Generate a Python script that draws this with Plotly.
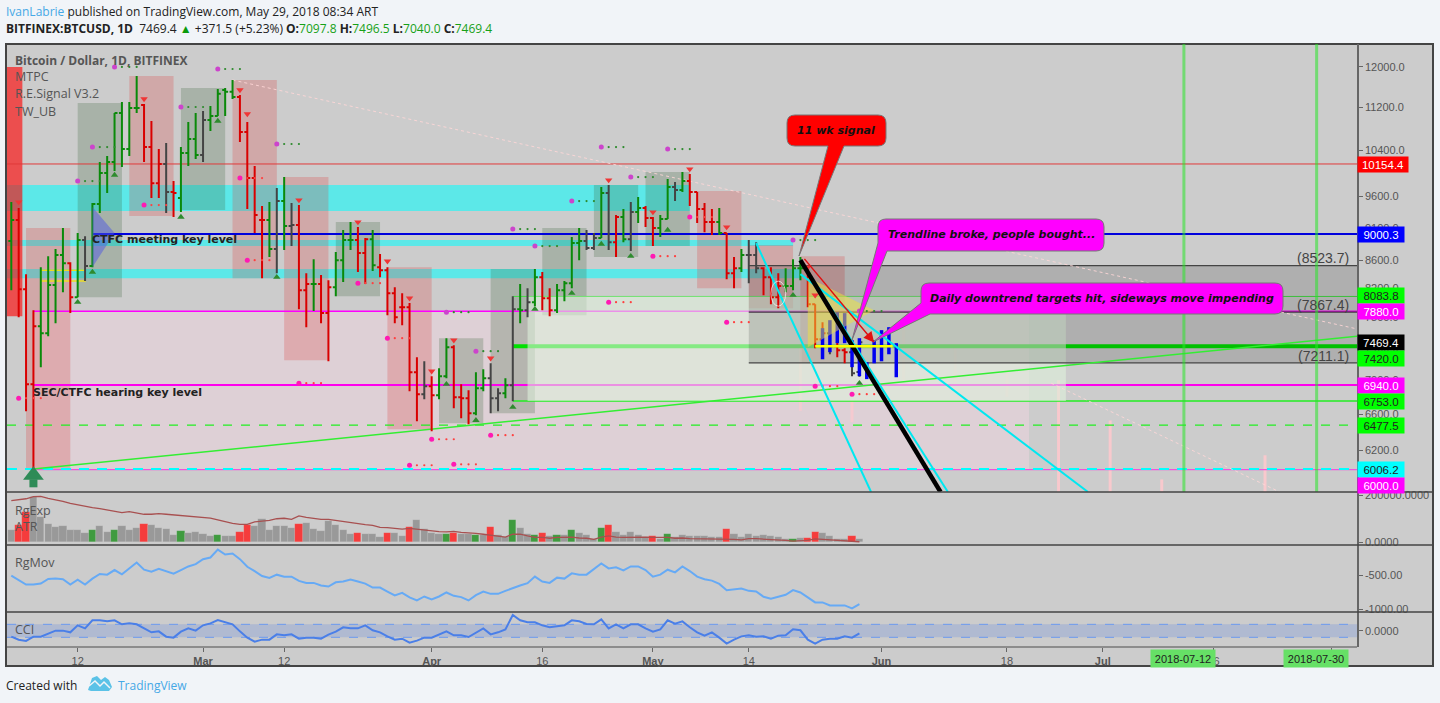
import pandas as pd
import numpy as np
import plotly.graph_objects as go

# ---------- chart data ----------
dates = pd.date_range("2018-02-03", "2018-05-29", freq="D")
bar_codes = ("g r r r g g g g r g k g g g g g g g r r r k r g g g "
             "k g g g g r r r r g k g k r r g r r g g g r r g r r r r r r k "
             "r g g r r r g g k k g k g k g r r g g g g k k g k r g k g r "
             "r g g k g r r r r g r r g k k r r r g g g r r r k r r k k").split()
opens = [8892,9220,8186,6950,7680,7588,8243,8680,8560,8074,8907,8517,9478,9998,10189,11086,10419,11182,11240,10455,9825,10154,9676,9576,10348,10600,
         10312,10953,11029,11534,11497,11396,10729,9911,9220,9220,8770,9526,9125,9141,8172,8257,8257,7855,8214,8605,8907,8907,8710,8922,8502,8458,8130,7936,7936,7095,6832,
         6927,6820,7047,7407,6796,6785,6612,6903,7022,6785,6844,6939,7909,7895,8004,8357,8060,7895,8172,8271,8861,8892,8785,8938,9659,8876,9268,8922,9348,9412,
         9252,9093,9236,9760,9709,9860,9676,9396,9188,9188,9015,8414,8487,8680,8680,8487,8357,8074,8229,8229,8487,8487,7977,7510,7588,7420,7369,7344,7097.8]
highs = [9510,9412,8400,7895,8502,8664,8770,9093,8575,9015,8968,9494,10189,10295,11086,11298,11298,11815,11260,10934,10419,10527,9860,10455,10916,11086,
         11124,11220,11554,11574,11734,11435,10916,10119,9445,9510,9742,9928,9494,9461,8414,8620,8386,8314,8725,9062,9188,9109,8938,9062,8695,8502,8214,8130,7992,7281,7230,
         7047,7145,7523,7433,6950,6879,7095,7132,7205,6903,7022,8088,8257,8200,8473,8430,8200,8257,8300,8953,9093,9062,9015,9760,9793,9300,9396,9510,9592,9445,
         9268,9300,9894,9843,10015,9981,9676,9494,9396,9412,9015,8650,8770,8907,8876,8502,8502,8414,8487,8620,8650,8487,7977,7733,7588,7868,7394,7497,7496.5]
lows = [8172,7800,6635,6006,7157,7548,7720,8144,7855,8074,8300,8502,9332,9659,10032,10100,10295,11086,10189,9576,9576,9332,9268,9348,10119,10242,
        10189,10748,11029,11029,11357,10546,9396,9015,8342,8650,8414,8755,8816,7909,7667,7882,7720,7230,8088,8286,8755,8430,8257,8444,8357,7827,7720,7693,6867,6521,6773,
        6410,6773,7022,6669,6555,6488,6589,6867,6612,6635,6785,6749,7720,7800,7950,7895,7813,7855,8018,8200,8605,8755,8755,8938,8755,8650,8876,8740,9172,9109,
        8816,8953,9236,9526,9676,9445,9172,9030,8984,8984,8328,8200,8430,8271,8414,8102,7977,7922,8144,8172,8314,7936,7394,7281,7318,7281,7205,7047,7040.0]
closes = [9220,8186,6950,7680,7588,8243,8680,8560,8074,8907,8517,9478,9998,10189,11086,10419,11182,11182,10455,9825,10154,9676,9659,10348,10600,10312,
          10953,11029,11458,11497,11396,10729,9911,9300,9220,8770,9526,9125,9141,8172,8257,8257,7855,8214,8605,8907,8907,8710,8922,8531,8458,8130,7800,7936,7095,6832,6927,
          6820,7047,7407,6796,6785,6612,6903,7022,6785,6844,6939,7909,7895,8004,8357,8060,7895,8172,8271,8861,8892,8785,8938,9659,8876,9268,8922,9348,9412,9252,
          9093,9236,9760,9709,9860,9676,9396,9188,9188,9015,8414,8487,8680,8680,8487,8357,8074,8229,8229,8487,8487,7977,7510,7588,7420,7369,7344,7083,7469.4]

blue_dates = pd.date_range("2018-05-24", "2018-06-03", freq="D")
blue_high = [7654,7760,7868,7855,7497,7523,7218,7497,7628,7667,7459]
blue_low  = [7255,7344,7459,7459,7157,7047,7011,7205,7230,7318,7034]

volume_k = [51,72,129,193,105,75,62,68,51,51,40,51,68,43,51,68,51,60,77,72,60,54,30,47,38,43,
            34,26,30,26,26,43,72,68,98,51,68,68,60,77,81,55,47,89,72,51,34,38,34,34,21,38,38,26,64,94,55,
            38,34,34,38,34,34,30,28,64,30,21,94,60,34,30,38,26,30,30,51,38,30,13,60,72,43,30,43,30,21,
            26,13,34,21,30,26,26,26,20,20,55,34,20,34,26,30,26,21,13,13,17,17,43,38,26,11,13,26,13]
volume_red = ["02-04","02-05","02-21","03-06","03-07","03-14","03-22","03-26","03-29","04-04","04-09","04-16","04-25","05-01","05-11","05-22","05-23","05-28"]
volume_green = ["02-14","02-17","02-26","03-03","04-03","04-07","04-12","04-15","04-18","04-20","04-24","05-03","05-20"]
atr_k = [176,180,184,193,194,186,180,173,164,157,150,146,142,136,129,125,129,125,118,118,121,118,115,113,111,106,
         105,102,94,86,79,75,75,86,89,92,99,101,96,111,105,101,96,96,91,86,82,79,74,71,62,61,57,55,58,54,50,
         45,44,43,45,41,40,37,33,30,27,21,33,33,26,20,20,16,20,20,21,17,16,11,21,26,21,20,21,21,21,
         20,20,20,16,17,14,14,14,14,11,14,11,9,14,14,13,11,9,7,4,6,7,13,11,9,6,3,3,1]
rgmov = [-510,-573,-641,-641,-626,-558,-553,-563,-641,-568,-641,-553,-485,-495,-427,-490,-403,-316,-422,-451,-408,-447,-481,-427,-374,-340,
         -267,-243,-126,-199,-184,-267,-379,-442,-515,-544,-495,-524,-524,-587,-616,-616,-655,-670,-607,-597,-568,-597,-626,-684,-684,-743,-801,-762,-830,-874,-816,
         -859,-816,-757,-806,-825,-874,-796,-743,-777,-777,-733,-689,-655,-621,-524,-597,-616,-539,-553,-476,-495,-495,-417,-330,-403,-388,-432,-374,-374,-427,
         -524,-495,-422,-461,-374,-442,-524,-563,-583,-631,-723,-714,-699,-733,-743,-820,-849,-820,-791,-723,-757,-830,-903,-903,-947,-947,-947,-990,-927]
cci = [-90,-136,-156,-90,-90,-38,3,3,-23,85,38,162,162,146,162,100,115,100,38,-23,-8,-90,-105,-13,38,3,
       85,115,167,131,100,-8,-105,-167,-136,-136,-54,-69,-54,-121,-105,-105,-121,-59,-13,54,38,38,85,8,-23,-85,-136,-121,-182,-151,-105,
       -105,-54,-8,-69,-69,-95,-23,38,-54,-23,23,244,162,131,131,85,54,69,85,162,146,105,100,177,38,100,38,100,100,38,
       -13,23,162,110,146,54,-23,-74,-23,-105,-197,-136,-85,-69,-90,-85,-121,-74,-69,23,8,-136,-197,-136,-121,-121,-85,-105,-38]

red_start = ["2018-02-05","2018-02-19","2018-03-05","2018-03-12","2018-03-26","2018-05-07","2018-05-14","2018-05-21"]
red_end   = ["2018-02-11","2018-02-25","2018-03-11","2018-03-18","2018-04-01","2018-05-13","2018-05-20","2018-05-27"]
red_top   = [9093,11815,11734,9928,8502,9692,8831,8664]
red_bot   = [6006,9284,8342,7243,6432,8200,7922,7211]
grn_start = ["2018-02-12","2018-02-26","2018-03-19","2018-04-02","2018-04-09","2018-04-16","2018-04-23","2018-04-30"]
grn_end   = ["2018-02-18","2018-03-04","2018-03-25","2018-04-08","2018-04-15","2018-04-22","2018-04-29","2018-05-06"]
grn_top   = [11279,11574,9188,7523,8473,9093,9793,10015]
grn_bot   = [8074,9380,8088,6499,6612,7827,8650,8816]

dots_green_d = ["02-17","03-03","02-26","02-14","02-12","03-11","04-03","04-07","04-12","04-15","04-20","04-24","04-28","05-03","05-20","05-29"]
dots_green_p = [12000,11958,11201,10455,9860,10510,7868,7357,9078,8816,9526,10455,9928,10419,8907,7882]
dots_red_d = ["02-21","03-06","03-07","02-04","03-22","03-26","03-14","04-01","04-09","04-25","05-01","05-06","05-11","05-23","05-28","03-29","04-04"]
dots_red_p = [9461,9911,8605,6785,8271,7523,6963,6322,6366,8004,8664,9268,7733,6927,6832,6045,6055]
down_d = ["02-04","02-21","03-06","03-07","03-14","03-22","03-26","03-29","04-01","04-04","04-09","04-25","05-01","05-06","05-11","05-22","05-23"]
down_p = [9510,11357,11534,11067,9543,9188,8590,8060,7107,7497,7268,9877,9348,10066,9109,8502,8102]
up_d = ["02-17","03-03","02-26","02-12","02-14","03-11","04-03","04-07","04-12","04-15","04-20","04-24","04-28","05-03","05-20","05-29"]
up_p = [9962,10934,9268,8004,8430,8357,6950,6532,6680,7909,8130,8846,8664,9062,8102,6963]
pink_d = ["05-21","05-28","06-04","06-11","06-18","06-25","07-02","07-09","07-23"]
pink_hi = [7407,6761,7628,7400,7120,6998,6530,5900,6150]
pink_lo = [6635,6510,7000,6950,6800,5773,5773,5773,5773]
pink_alpha = [0.5,0.7,0.25,0.25,0.3,0.85,0.85,0.85,0.85]

y_ticks = [12000,11200,10400,9600,9100,8600,8200,7800,7400,7000,6600,6200]
x_tick_dates = ["2018-02-12","2018-03-01","2018-03-12","2018-04-01","2018-04-16","2018-05-01","2018-05-14","2018-06-01","2018-06-18","2018-07-01","2018-07-16","2018-08-01"]
x_tick_text = ["12","<b>Mar</b>","12","<b>Apr</b>","16","<b>May</b>","14","<b>Jun</b>","18","<b>Jul</b>","16","<b>Aug</b>"]

# ---------- layout geometry ----------
W, H = 1440, 703
M_T, M_B = 7, 13     # fixed margins so edge texts do not push the plot area
px = lambda x: x / W
py = lambda y: 1 - (y - M_T) / (H - M_T - M_B)
X_L, X_R = "2018-02-02 10:00", "2018-08-04 11:20"
P_MIN, P_MAX = 5773, 12484
F = "Open Sans"; A = "Liberation Sans"; D = "DejaVu Sans"
shapes, notes = [], []
def yr(d): return "2018-" + d

def band(x0, x1, y0, y1, fill, yref="y"):
    shapes.append(dict(type="rect", xref="x", yref=yref, x0=x0, x1=x1, y0=y0, y1=y1, fillcolor=fill, line=dict(width=0), layer="below"))
def seg(x0, y0, x1, y1, color, width=1, dash="solid", yref="y", layer="below"):
    shapes.append(dict(type="line", xref="x", yref=yref, x0=x0, x1=x1, y0=y0, y1=y1, line=dict(color=color, width=width, dash=dash), layer=layer))
def prect(x0, y0, x1, y1, fill="rgba(0,0,0,0)", color="#444", width=1.5, layer="below"):
    shapes.append(dict(type="rect", xref="paper", yref="paper", x0=px(x0), x1=px(x1), y0=py(y0), y1=py(y1), fillcolor=fill, line=dict(color=color, width=width), layer=layer))
def text(x, y, s, size=12, color="#555", font=F, anchor="left", **kw):
    if "bgcolor" not in kw:
        x = x - 2 if anchor == "left" else x + 2 if anchor == "right" else x
    notes.append(dict(xref="paper", yref="paper", x=px(x), y=py(y), text=s, showarrow=False, xanchor=anchor, yanchor="middle",
                      font=dict(family=font, size=size, color=color), **kw))

# page and panel background
prect(6, 44, 1433, 666, fill="#cccccc", color="#444", width=2)

# horizontal price zones
band(X_L, yr("05-06"), 9793, 9364, "rgba(0,255,255,0.55)")
band(X_L, yr("05-20"), 8907, 8816, "rgba(0,255,255,0.55)")
band(X_L, yr("05-21"), 8473, 8342, "rgba(0,255,255,0.55)")
band(yr("02-06"), yr("06-21"), 7880, 6006, "rgba(244,213,226,0.45)")

# signal boxes
band(X_L, yr("02-04") + " 12:00", 12000, 7813, "rgba(255,0,0,0.62)")
for a, b, t, u in zip(red_start, red_end, red_top, red_bot):
    band(a, b, t, u, "rgba(220,60,60,0.25)")
for a, b, t, u in zip(grn_start, grn_end, grn_top, grn_bot):
    band(a, b, t, u, "rgba(60,100,60,0.25)")
shapes.append(dict(type="rect", xref="x", yref="y", x0=yr("02-07"), x1=yr("02-13"), y0=8458, y1=8300,
                   line=dict(color="#eedd22", width=1.5), layer="below"))

# pale projected columns
for d, a, b, al in zip(pink_d, pink_hi, pink_lo, pink_alpha):
    seg(yr(d), a, yr(d), b, f"rgba(255,200,205,{al})", 3)

# level lines
seg(X_L, 10154.4, X_R, 10154.4, "#e03a3a", 1)
seg(yr("02-14"), 9000.3, X_R, 9000.3, "#0000dd", 2)
seg(yr("02-06"), 7880, X_R, 7880, "#ff00ff", 1.5)
seg(yr("02-06"), 6940, X_R, 6940, "#ff00ee", 2)
seg(yr("04-12"), 6753, X_R, 6753, "#22ee22", 1.5)
seg(yr("04-12"), 8083.8, X_R, 8083.8, "#44dd44", 1)
seg(yr("04-12"), 7420, X_R, 7420, "#00e000", 4)
seg(X_L, 6477.5, X_R, 6477.5, "#22ee22", 1.3, "dash")
seg(yr("02-06"), 6000, X_R, 6000, "#ee55dd", 1.3)
seg(X_L, 6006.2, X_R, 6006.2, "#00ffff", 2, "10px,8px")

# light projection box sits over the level lines
band(yr("04-14"), yr("06-26"), 8083.8, 6753, "rgba(222,240,218,0.6)")
# fibonacci box
band(yr("05-14"), X_R, 8523.7, 7211.1, "rgba(0,0,0,0.14)")
seg(yr("05-14"), 8523.7, X_R, 8523.7, "#444", 1.3)
seg(yr("05-14"), 7867.4, X_R, 7867.4, "#443344", 1.3)
seg(yr("05-14"), 7211.1, X_R, 7211.1, "#444", 1.3)
seg(yr("02-06"), 6006.2, X_R, 7547, "#33ee33", 1.5)

# pale dotted trend lines
seg(yr("03-05"), 11734, X_R, 7644, "rgba(255,215,215,0.85)", 1, "dot")
seg(yr("06-24"), 6963, yr("07-25"), 5773, "rgba(255,215,215,0.85)", 1, "dot")

# vertical date lines
for d in ["07-12", "07-30"]:
    shapes.append(dict(type="line", xref="x", yref="y domain", x0=yr(d), x1=yr(d), y0=0, y1=1, line=dict(color="rgba(40,230,40,0.55)", width=3), layer="above"))

# descending channel
seg(yr("05-15"), 8861, yr("05-30") + " 14:00", 5773, "#00e8f0", 2, layer="above")
seg(yr("05-21"), 8605, yr("06-10"), 5773, "#00e8f0", 2, layer="above")
seg(yr("05-21"), 8400, yr("06-29"), 5773, "#00e8f0", 2, layer="above")
seg(yr("05-21"), 8605, yr("06-09"), 5773, "#000000", 4.5, layer="above")
shapes.append(dict(type="circle", xref="x", yref="y", x0=yr("05-17"), x1=yr("05-19"), y0=8300, y1=7950, line=dict(color="rgba(255,255,255,0.65)", width=1), layer="above"))

# sub-pane decoration
band(X_L, X_R, 100, -100, "rgba(90,130,225,0.25)", "y4")
seg(X_L, 100, X_R, 100, "#6b9af0", 1, "dash", "y4")
seg(X_L, -100, X_R, -100, "#6b9af0", 1, "dash", "y4")
for yy in (492, 545, 612):
    shapes.append(dict(type="line", xref="paper", yref="paper", x0=px(6), x1=px(1433), y0=py(yy), y1=py(yy), line=dict(color="#444", width=1.5), layer="above"))
shapes.append(dict(type="line", xref="paper", yref="paper", x0=px(7), x1=px(1357), y0=py(647), y1=py(647), line=dict(color="#777", width=1.5), layer="above"))

# ---------- traces ----------
fig = go.Figure()
def poly(xs, ys, fill):
    fig.add_trace(go.Scatter(x=xs, y=ys, mode="lines", fill="toself", fillcolor=fill, line=dict(width=0), hoverinfo="skip", showlegend=False))
poly([yr("05-22"), yr("05-31"), yr("05-22"), yr("05-22")], [8357, 7895, 7407, 8357], "rgba(240,225,60,0.5)")
poly([yr("02-14"), yr("02-17"), yr("02-14"), yr("02-14")], [9428, 9015, 8502, 9428], "rgba(80,90,225,0.5)")

def dots(ds, ps, head, small):
    d0 = pd.to_datetime([yr(d) for d in ds])
    fig.add_trace(go.Scatter(x=d0, y=ps, mode="markers", marker=dict(color=head, size=5), hoverinfo="skip", showlegend=False))
    xs = [t + pd.Timedelta(days=k) for t in d0 for k in (1, 2, 3)]
    ys = [p for p in ps for _ in (1, 2, 3)]
    fig.add_trace(go.Scatter(x=xs, y=ys, mode="markers", marker=dict(color=small, size=2.2), hoverinfo="skip", showlegend=False))
dots(dots_green_d, dots_green_p, "#cc44cc", "#2e8b2e")
dots(dots_red_d, dots_red_p, "#ff1ab3", "#ff4040")

fig.add_trace(go.Scatter(x=[yr(d) for d in down_d], y=down_p, mode="markers", hoverinfo="skip", showlegend=False,
                         marker=dict(symbol="triangle-down", size=6.5, color="#f03535")))
fig.add_trace(go.Scatter(x=[yr(d) for d in up_d], y=up_p, mode="markers", hoverinfo="skip", showlegend=False,
                         marker=dict(symbol="triangle-up", size=6.5, color="#2e8b2e")))

hex_of = {"g": "#0a8a0a", "r": "#d90000", "k": "#444444"}
codes = np.array(bar_codes)
arr = lambda v: np.array(v, dtype=float)
for c, col in hex_of.items():
    m = codes == c
    fig.add_trace(go.Ohlc(x=dates[m], open=arr(opens)[m], high=arr(highs)[m], low=arr(lows)[m], close=arr(closes)[m], tickwidth=0.4,
                          increasing=dict(line=dict(color=col, width=2)), decreasing=dict(line=dict(color=col, width=2)),
                          hoverinfo="skip", showlegend=False))
fig.add_trace(go.Ohlc(x=blue_dates, open=blue_low, high=blue_high, low=blue_low, close=blue_low, tickwidth=0,
                      increasing=dict(line=dict(color="#0000f0", width=3.5)), decreasing=dict(line=dict(color="#0000f0", width=3.5)),
                      hoverinfo="skip", showlegend=False))
seg(yr("05-23"), 7420, yr("06-02") + " 12:00", 7420, "#ffff00", 2.5, layer="above")

# big buy arrow under the February low: head and stem
fig.add_trace(go.Scatter(x=[yr("02-06")], y=[5860], mode="markers", hoverinfo="skip", showlegend=False,
                         marker=dict(symbol="square", size=8, color="#2e8b57", line=dict(width=0))))
fig.add_trace(go.Scatter(x=[yr("02-06")], y=[5941], mode="markers", hoverinfo="skip", showlegend=False,
                         marker=dict(symbol="triangle-up", size=18, color="#2e8b57", line=dict(width=0))))

# ATR pane
vol_color = ["#f53c3c" if d.strftime("%m-%d") in volume_red else "#3f9b3f" if d.strftime("%m-%d") in volume_green else "#999999" for d in dates]
fig.add_trace(go.Bar(x=dates, y=[v * 1000 for v in volume_k], yaxis="y2", marker=dict(color=vol_color, line=dict(color="rgba(255,255,255,0.18)", width=0.5)),
                     width=86400000 * 0.97, hoverinfo="skip", showlegend=False))
fig.add_trace(go.Scatter(x=dates, y=[v * 1000 for v in atr_k], yaxis="y2", mode="lines", line=dict(color="#a85050", width=1.3), hoverinfo="skip", showlegend=False))
fig.add_trace(go.Scatter(x=dates, y=rgmov, yaxis="y3", mode="lines", line=dict(color="#66aaf5", width=2), hoverinfo="skip", showlegend=False))
fig.add_trace(go.Scatter(x=dates, y=cci, yaxis="y4", mode="lines", line=dict(color="#4a7fe8", width=2), hoverinfo="skip", showlegend=False))

# ---------- callouts ----------
def callout(x0, y0, x1, y1, fill, ptr, r=8):
    pth = f"M {px(x0+r)} {py(y0)} L {px(x1-r)} {py(y0)} Q {px(x1)} {py(y0)} {px(x1)} {py(y0+r)} L {px(x1)} {py(y1-r)} Q {px(x1)} {py(y1)} {px(x1-r)} {py(y1)} "
    if ptr[0] == "bottom":
        _, a, b, tx, ty = ptr
        pth += f"L {px(b)} {py(y1)} L {px(tx)} {py(ty)} L {px(a)} {py(y1)} L {px(x0+r)} {py(y1)} Q {px(x0)} {py(y1)} {px(x0)} {py(y1-r)} "
    else:
        _, a, b, tx, ty = ptr
        pth += f"L {px(a)} {py(y1)} L {px(tx)} {py(ty)} L {px(x0)} {py(b)} "
    pth += f"L {px(x0)} {py(y0+r)} Q {px(x0)} {py(y0)} {px(x0+r)} {py(y0)} Z"
    shapes.append(dict(type="path", xref="paper", yref="paper", path=pth, fillcolor=fill, line=dict(color="#777", width=1), layer="above"))
callout(787, 115, 886, 146, "#ff0000", ("bottom", 828, 844, 799, 256))
callout(878, 219, 1104, 251, "#ff00ff", ("left", 887, 243, 852, 340))
callout(921, 283, 1283, 314, "#ff00ff", ("left", 930, 303, 873, 342))
text(836, 130, "<b><i>11 wk signal</i></b>", 11, "#111", D, "center")
text(991, 234, "<b><i>Trendline broke, people bought...</i></b>", 11, "#111", D, "center")
text(1102, 298, "<b><i>Daily downtrend targets hit, sideways move impending</i></b>", 11, "#111", D, "center")

notes.append(dict(xref="x", yref="y", x=yr("05-31"), y=np.log10(7469), ax=-71, ay=-85, text="", showarrow=True, arrowhead=2, arrowwidth=1.5, arrowcolor="#e01010", arrowsize=1.4))

# ---------- texts ----------
text(6, 11, "<span style='color:#45a8e6'>IvanLabrie</span> published on TradingView.com, May 29, 2018 08:34 ART", 12, "#222")
text(6, 29, "<b>BITFINEX:BTCUSD, 1D</b>  7469.4 <span style='color:#0a9a0a'>▲</span> +371.5 (+5.23%) <b>O:</b><span style='color:#17a117'>7097.8</span> "
            "<b>H:</b><span style='color:#17a117'>7496.5</span> <b>L:</b><span style='color:#17a117'>7040.0</span> <b>C:</b><span style='color:#17a117'>7469.4</span>", 12, "#222")
text(6, 685, "Created with", 12, "#222")
text(118, 685, "TradingView", 12, "#45a8e6")
shapes.append(dict(type="path", xref="paper", yref="paper", layer="above", fillcolor="#5bc2e7", line=dict(width=0),
                   path=" ".join(f"{c} {px(a)} {py(b)}" for c, a, b in [("M",88,690),("L",92,678),("L",97,676),("L",101,680),("L",105,677),("L",109,680),("L",112,687),("L",109,691),("L",91,691)]) + " Z"))
shapes.append(dict(type="path", xref="paper", yref="paper", layer="above", line=dict(color="#f1f4f8", width=1.5),
                   path=" ".join(f"{c} {px(a)} {py(b)}" for c, a, b in [("M",89,686),("L",95,681),("L",100,686),("L",104,682),("L",110,688)])))

for s, y, b in [("Bitcoin / Dollar, 1D, BITFINEX", 60, True), ("MTPC", 77, False), ("R.E.Signal V3.2", 94, False), ("TW_UB", 111, False),
                ("RgExp", 510, False), ("ATR", 526, False), ("RgMov", 562, False), ("CCI", 629, False)]:
    text(15, y, f"<b>{s}</b>" if b else s, 12 if b else 12.5, "#555")
text(92, 240, "<b>CTFC meeting key level</b>", 11, "#222", D)
text(33, 392, "<b>SEC/CTFC hearing key level</b>", 11, "#222", D)

tags = [("10154.4", 164, "#ff0000", "#fff", 50), ("9000.3", 234, "#0000ff", "#fff", 46), ("8083.8", 296, "#00ff00", "#222", 46), ("7880.0", 312, "#ff00ff", "#fff", 46),
        ("7469.4", 342, "#000000", "#fff", 46), ("7420.0", 358, "#00ff00", "#222", 46), ("6940.0", 385, "#ff00ff", "#fff", 46), ("6753.0", 401, "#00ff00", "#222", 46),
        ("6477.5", 425, "#00ff00", "#222", 46), ("6006.2", 469, "#00ffff", "#222", 46), ("6000.0", 485, "#ff00ff", "#fff", 46)]
for s, y, bg, fg, w in tags:
    text(1357, y, s, 11.5, fg, A, "left", bgcolor=bg, width=w, height=15, borderpad=0, align="center")
for s, y in [("(8523.7)", 258), ("(7867.4)", 305), ("(7211.1)", 356)]:
    text(1349, y, s, 14, "#444", A, "right")
for s, x in [("2018-07-12", 1183), ("2018-07-30", 1316)]:
    text(x, 658, s, 11, "#222", A, "center", bgcolor="#66e066", width=64, height=17, borderpad=0, align="center")

tf = dict(family=A, size=11, color="#555")
common = dict(side="right", anchor="x", showgrid=False, zeroline=False, showline=True, linecolor="#666", linewidth=1.5, tickmode="array", ticks="outside", ticklen=4, tickcolor="#666", tickfont=tf)
fig.update_layout(
    width=W, height=H, margin=dict(l=0, r=0, t=M_T, b=M_B), autosize=False,
    paper_bgcolor="#f1f4f8", plot_bgcolor="rgba(0,0,0,0)", showlegend=False, barmode="overlay", bargap=0,
    shapes=shapes, annotations=notes, hovermode=False,
    xaxis=dict(domain=[px(7), px(1357)], range=[X_L, X_R], type="date", anchor="y4", rangeslider=dict(visible=False), showgrid=False, zeroline=False,
               tickmode="array", tickvals=x_tick_dates, ticktext=x_tick_text, ticks="outside", ticklen=4, tickcolor="#666", tickfont=tf),
    yaxis=dict(domain=[py(492), py(44)], type="log", range=[np.log10(P_MIN), np.log10(P_MAX)], tickvals=y_ticks, ticktext=[f"{v:.1f}" for v in y_ticks], **common),
    yaxis2=dict(domain=[py(545), py(492)], range=[-12766, 212766], tickvals=[0, 200000], ticktext=["0.0000", "200000.0000"], **common),
    yaxis3=dict(domain=[py(612), py(545)], range=[-1044, -59], tickvals=[-500, -1000], ticktext=["-500.00", "-1000.00"], **common),
    yaxis4=dict(domain=[py(647), py(612)], range=[-249, 290], tickvals=[0], ticktext=["0.0000"], **common),
)
fig.write_html("out.html", config=dict(displayModeBar=False), post_script="document.body.style.margin='0';document.body.style.overflow='hidden';")
